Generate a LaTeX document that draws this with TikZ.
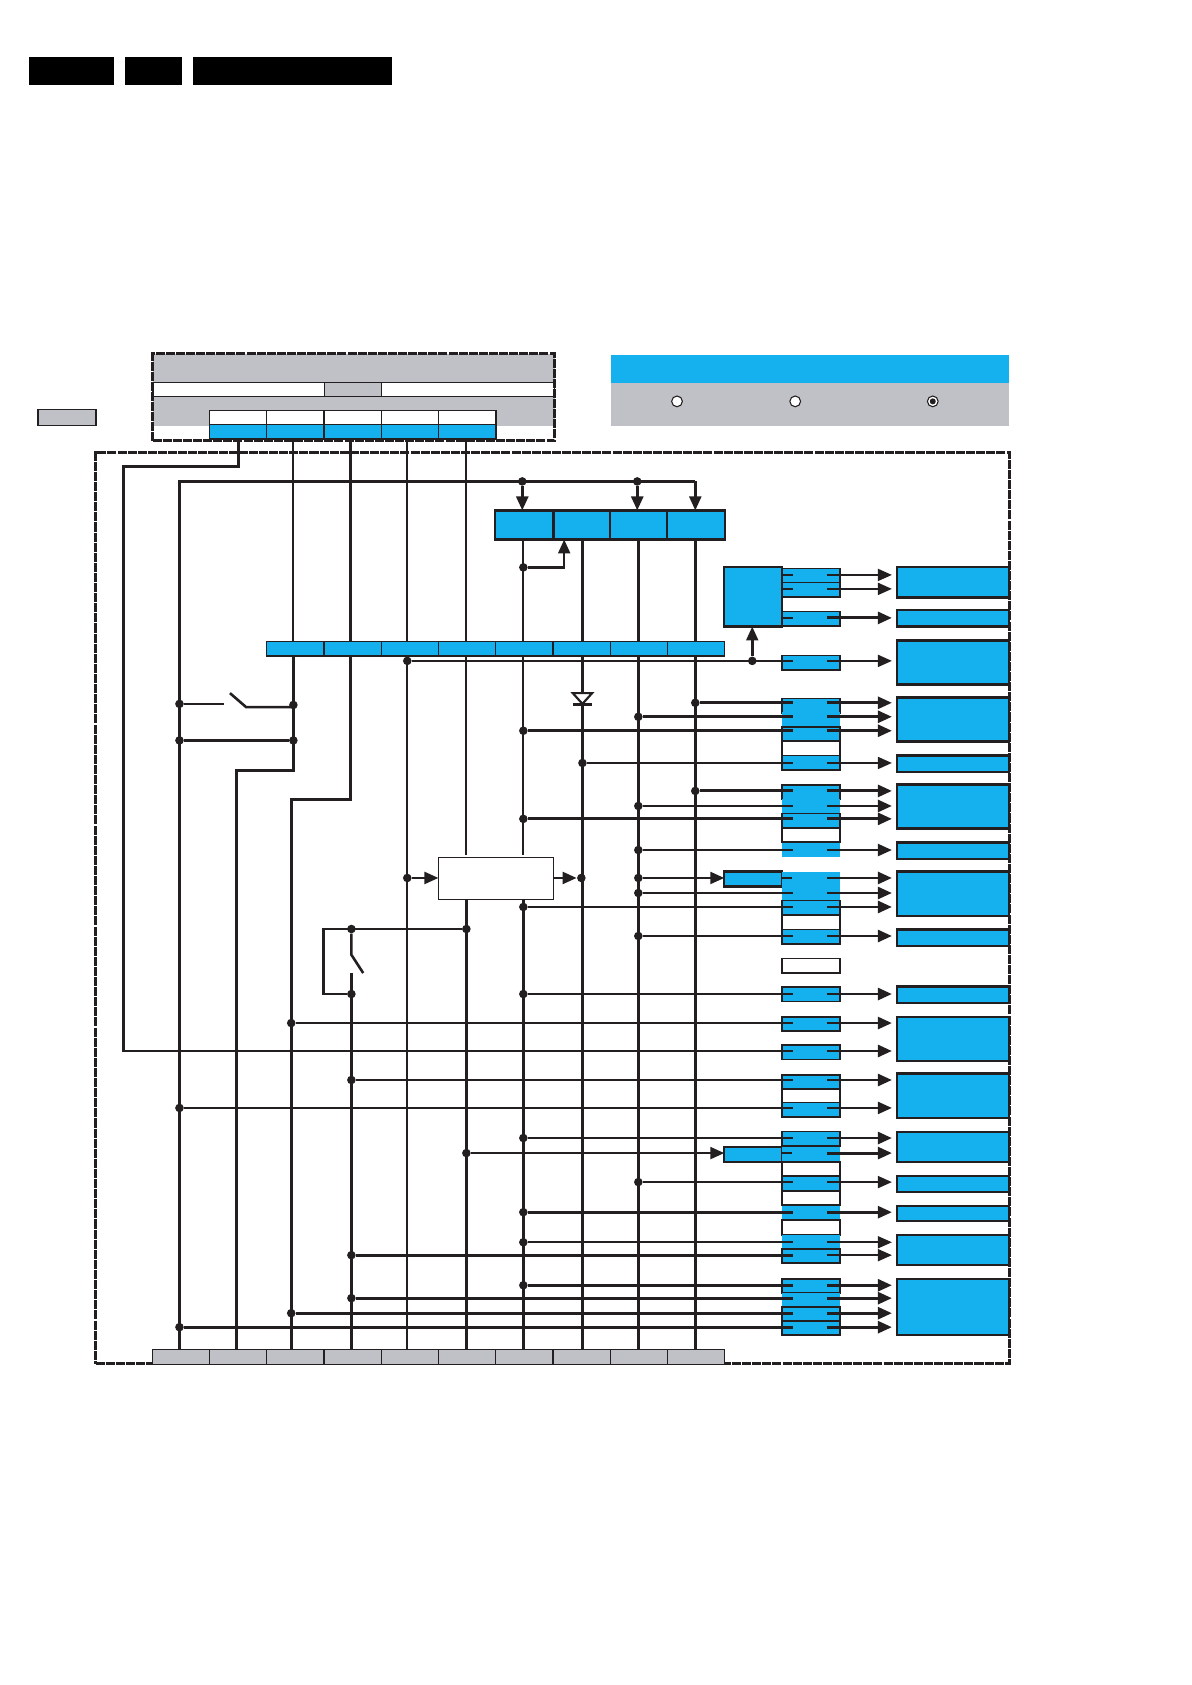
\documentclass[tikz,border=0pt]{standalone}
\usepackage{amsmath, amssymb, graphicx, xcolor}
\usetikzlibrary{arrows.meta}
\definecolor{chipblue}{HTML}{14B1EE}
\definecolor{panelgray}{HTML}{BFC1C6}
\definecolor{ink}{HTML}{231F20}
\tikzset{
  box/.style={anchor=north west, inner sep=0pt, outer sep=0pt, line width=.85pt, draw=ink},
  bare/.style={anchor=north west, inner sep=0pt, outer sep=0pt},
  cellb/.style={box, fill=chipblue, minimum width=26.7pt},
  cellw/.style={box, fill=white, minimum width=26.7pt},
  cellg/.style={box, fill=panelgray, minimum width=26.7pt, minimum height=6.7pt, line width=.5pt},
  pinb/.style={cellb, minimum height=6.7pt},
  pinw/.style={cellw, minimum height=6.7pt},
  pinp/.style={bare, fill=chipblue, minimum width=26.7pt, minimum height=6.7pt},
  loadbox/.style={box, fill=chipblue, minimum width=52pt, line width=1pt},
  frameline/.style={line width=1.4pt, draw=ink, dash pattern=on 4.2pt off .5pt},
  wire/.style={draw=ink, line width=1.2pt},
  lean/.style={line width=1pt},
  heavy/.style={line width=1.35pt},
  sig/.style={wire, -{Triangle[length=6.5pt,width=5.5pt]}},
  pinin/.style={shorten >=-5pt},
  pinout/.style={sig, shorten <=-6pt, shorten >=2.5pt},
  jdot/.style={circle, fill=ink, inner sep=0pt, minimum size=4pt},
  hole/.style={circle, draw=ink, fill=white, line width=.5pt, inner sep=0pt, minimum size=5pt}
}
\begin{document}
\begin{tikzpicture}[x=0.5pt,y=-0.5pt]
\useasboundingbox (0,0) rectangle (1109,1568);
% black bars
\node[bare, fill=black, minimum width=39.5pt, minimum height=13pt] (bar1) at (27,53) {};
\node[bare, fill=black, minimum width=26.5pt, minimum height=13pt] (bar2) at (116,53) {};
\node[bare, fill=black, minimum width=92.5pt, minimum height=13pt] (bar3) at (180,53) {};
% small grey tag
\node[box, fill=panelgray, minimum width=27pt, minimum height=7.5pt] (tag) at (35,381) {};
% top grey panel
\node[bare, fill=panelgray, minimum width=187pt, minimum height=13.5pt] (pan1) at (142,329) {};
\node[box, fill=white, minimum width=187pt, minimum height=6.5pt] (pan2) at (142,356) {};
\node[box, fill=panelgray, line width=.5pt, minimum width=26.5pt, minimum height=6.5pt] (pan3) at (302,356) {};
\node[bare, fill=panelgray, minimum width=187pt, minimum height=13.5pt] (pan4) at (142,369) {};
\draw[wire, line width=.85pt] (pan4.north west) -- (pan4.north east);
% legend panel
\node[bare, fill=chipblue, minimum width=185pt, minimum height=13pt] (leg1) at (569,330) {};
\node[bare, fill=panelgray, minimum width=185pt, minimum height=20pt] (leg2) at (569,356) {};
\node[hole] (rad1) at (630,373.5) {};
\node[hole] (rad2) at (740,373.5) {};
\node[hole] (rad3) at (868,373.5) {};
\node[jdot, minimum size=2.8pt] (rad3d) at (rad3) {};
% dashed frames
\node[bare, frameline, minimum width=187pt, minimum height=40.5pt] (upper) at (142,329) {};
\node[bare, frameline, minimum width=425pt, minimum height=424pt] (main) at (89,421) {};
% connector cells on top
\node[cellw, minimum height=6.7pt] (c1) at (195,382) {};
\node[cellw, minimum height=6.7pt] (c2) at (248,382) {};
\node[cellw, minimum height=6.7pt] (c3) at (302,382) {};
\node[cellw, minimum height=6.7pt] (c4) at (355,382) {};
\node[cellw, minimum height=6.7pt] (c5) at (408,382) {};
\node[pinb] (t1) at (195,395) {};
\node[pinb] (t2) at (248,395) {};
\node[pinb] (t3) at (302,395) {};
\node[pinb] (t4) at (355,395) {};
\node[pinb] (t5) at (408,395) {};
% upper row
\node[cellb, line width=1pt, minimum height=13.5pt] (u1) at (461,475) {};
\node[cellb, line width=1pt, minimum height=13.5pt] (u2) at (515,475) {};
\node[cellb, line width=1pt, minimum height=13.5pt] (u3) at (568,475) {};
\node[cellb, line width=1pt, minimum height=13.5pt] (u4) at (621,475) {};
% middle row
\node[pinb, line width=.6pt] (m1) at (248,597) {};
\node[pinb, line width=.6pt] (m2) at (302,597) {};
\node[pinb, line width=.6pt] (m3) at (355,597) {};
\node[pinb, line width=.6pt] (m4) at (408,597) {};
\node[pinb, line width=.6pt] (m5) at (461,597) {};
\node[pinb, line width=.6pt] (m6) at (515,597) {};
\node[pinb, line width=.6pt] (m7) at (568,597) {};
\node[pinb, line width=.6pt] (m8) at (621,597) {};
% bottom row
\node[cellg] (b1) at (142,1256) {};
\node[cellg] (b2) at (195,1256) {};
\node[cellg] (b3) at (248,1256) {};
\node[cellg] (b4) at (302,1256) {};
\node[cellg] (b5) at (355,1256) {};
\node[cellg] (b6) at (408,1256) {};
\node[cellg] (b7) at (461,1256) {};
\node[cellg] (b8) at (515,1256) {};
\node[cellg] (b9) at (568,1256) {};
\node[cellg] (b10) at (621,1256) {};
% blocks
\node[cellb, line width=1pt, minimum height=27.5pt] (chip) at (674,528) {};
\node[cellb, line width=1pt, minimum height=7pt] (drvA) at (674,811) {};
\node[cellb, line width=1pt, minimum height=7pt] (drvB) at (674,1067) {};
\node[box, fill=white, line width=.7pt, minimum width=53.5pt, minimum height=19.5pt] (reg) at (408,798) {};
% pin stacks
\node[pinb] (pa1) at (728,529) {};
\node[pinb] (pa2) at (728,542) {};
\node[pinb] (pa3) at (728,569) {};
\node[pinb] (pa4) at (728,610) {};
\node[pinb] (s1) at (728,650) {};
\node[pinp] (s2) at (728,663) {};
\node[pinb] (s3) at (728,676.5) {};
\node[pinw] (s4) at (728,690) {};
\node[pinb] (s5) at (728,703) {};
\node[pinb] (s6) at (728,730.5) {};
\node[pinp] (s7) at (728,743.5) {};
\node[pinb] (s8) at (728,757) {};
\node[pinw] (s9) at (728,770.5) {};
\node[pinp] (s10) at (728,784) {};
\node[pinp] (s11) at (728,811) {};
\node[pinp] (s12) at (728,824.5) {};
\node[pinb] (s13) at (728,838) {};
\node[pinw] (s14) at (728,852) {};
\node[pinb] (s15) at (728,865) {};
\node[pinw] (s16) at (728,892) {};
\node[pinb] (s17) at (728,918.5) {};
\node[pinb] (s18) at (728,946) {};
\node[pinb] (s19) at (728,972.5) {};
\node[pinb] (s20) at (728,1000) {};
\node[pinw] (s21) at (728,1013) {};
\node[pinb] (s22) at (728,1026) {};
\node[pinb] (s23) at (728,1053) {};
\node[pinp] (s24) at (728,1067) {};
\node[pinw] (s25) at (728,1081) {};
\node[pinb] (s26) at (728,1094.5) {};
\node[pinw] (s27) at (728,1108) {};
\node[pinp] (s28) at (728,1122) {};
\node[pinw] (s29) at (728,1135.5) {};
\node[pinp] (s30) at (728,1149) {};
\node[pinb] (s31) at (728,1162) {};
\node[pinb] (s32) at (728,1190) {};
\node[pinp] (s33) at (728,1203) {};
\node[pinb] (s34) at (728,1216) {};
\node[pinb] (s35) at (728,1229) {};
% loads on the right
\node[loadbox, minimum height=14pt] (o1) at (835,528) {};
\node[loadbox, minimum height=7.5pt] (o2) at (835,568) {};
\node[loadbox, minimum height=20.5pt] (o3) at (835,596) {};
\node[loadbox, minimum height=20.5pt] (o4) at (835,649) {};
\node[loadbox, minimum height=7.5pt] (o5) at (835,703) {};
\node[loadbox, minimum height=20.5pt] (o6) at (835,730) {};
\node[loadbox, minimum height=7.5pt] (o7) at (835,784) {};
\node[loadbox, minimum height=20.5pt] (o8) at (835,811) {};
\node[loadbox, minimum height=7.5pt] (o9) at (835,865) {};
\node[loadbox, minimum height=7.5pt] (o10) at (835,918) {};
\node[loadbox, minimum height=20.5pt] (o11) at (835,946) {};
\node[loadbox, minimum height=20.5pt] (o12) at (835,999) {};
\node[loadbox, minimum height=14pt] (o13) at (835,1053) {};
\node[loadbox, minimum height=7.5pt] (o14) at (835,1094) {};
\node[loadbox, minimum height=7pt] (o15) at (835,1122) {};
\node[loadbox, minimum height=14pt] (o16) at (835,1149) {};
\node[loadbox, minimum height=26pt] (o17) at (835,1190) {};
% vertical rails
\coordinate (vA) at (167,1256);
\coordinate (vB) at (220,1256);
\coordinate (vC) at (271,1256);
\coordinate (vD) at (327,1256);
\coordinate (vE) at (379,1256);
\coordinate (vF) at (434,1256);
\coordinate (vG) at (487,1256);
\coordinate (vH) at (542,1256);
\coordinate (vI) at (594,1256);
\coordinate (vJ) at (647,1256);
\coordinate (vT2) at (273,409);
\coordinate (vT3) at (326,409);
\coordinate (cnA) at (115,434);
\coordinate (cnB) at (115,978);
\coordinate (cnC) at (273,717);
\coordinate (cnD) at (220,717);
\coordinate (cnE) at (326,744);
\coordinate (cnF) at (271,744);
\coordinate (railend) at (647,448);
\draw[wire] (vA) |- (railend);
\node[jdot] (jr1) at (486,448) {};
\node[jdot] (jr2) at (593,448) {};
\draw[sig, heavy] (jr1) -- (jr1 |- u1.north);
\draw[sig, heavy] (jr2) -- (jr2 |- u3.north);
\draw[sig] (railend) -- (railend |- u4.north);
\draw[wire] (t1.south) |- (cnA) -- (cnB) -- (cnB -| s19.west);
\draw[wire, lean] (vT2) -- (vT2 |- m1.north);
\draw[wire] (vT2 |- m1.south) -- (cnC) -- (cnD) -- (vB);
\draw[wire, heavy] (vT3) -- (vT3 |- m2.north);
\draw[wire] (vT3 |- m2.south) -- (cnE) -- (cnF) -- (vC);
\draw[wire, lean] (vE |- t4.south) -- (vE |- m3.north);
\draw[wire, lean] (vE |- m3.south) -- (vE);
\draw[wire, lean] (vF |- t5.south) -- (vF |- m4.north);
\draw[wire, lean, shorten >=1pt] (vF |- m4.south) -- (vF |- reg.north);
\draw[wire] (vF |- reg.south) -- (vF);
\draw[wire, lean] (vG |- u1.south) -- (vG |- m5.north);
\draw[wire, lean, shorten >=1pt] (vG |- m5.south) -- (vG |- reg.north);
\draw[wire, heavy] (vG |- reg.south) -- (vG);
\draw[wire, lean] (vH |- u2.south) -- (vH |- m6.north);
\draw[wire] (vH |- m6.south) -- (vH);
\draw[wire] (vI |- u3.south) -- (vI |- m7.north);
\draw[wire, heavy] (vI |- m7.south) -- (vI);
\draw[wire] (vJ |- u4.south) -- (vJ |- m8.north);
\draw[wire] (vJ |- m8.south) -- (vJ);
% feedback into the upper row
\node[jdot] (jup) at (487,528) {};
\coordinate (upA) at (525,502);
\draw[sig] (jup) -| (upA);
% chip outputs
\coordinate (a1) at (728,535);
\coordinate (a2) at (728,548);
\coordinate (a3) at (728,575);
\draw[wire] (a1) -- ++(10,0);
\draw[wire] (a2) -- ++(10,0);
\draw[wire] (a3) -- ++(10,0);
\draw[pinout, lean] (a1 -| pa1.east) -- (a1 -| o1.west);
\draw[pinout, lean] (a2 -| pa2.east) -- (a2 -| o1.west);
\draw[pinout, heavy] (a3 -| pa3.east) -- (a3 -| o2.west);
% rail to the chip
\node[jdot] (j00) at (379,615) {};
\node[jdot] (jchip) at (700,615) {};
\draw[sig] (jchip) -- (jchip |- chip.south);
\draw[wire, lean, pinin] (j00) -- (j00 -| pa4.west);
\draw[pinout, lean] (j00 -| pa4.east) -- (j00 -| o3.west);
% diode
\coordinate (dio) at (542,650);
\draw[wire, lean, fill=white] (dio) ++(-9,-5) -- ++(18,0) -- ++(-9,10) -- cycle;
\draw[wire] (dio) ++(-9,5.5) -- ++(18,0);
% switches
\node[jdot] (jS1) at (167,655) {};
\node[jdot] (jS2) at (273,656) {};
\node[jdot] (jS3) at (167,689) {};
\node[jdot] (jS4) at (273,689) {};
\coordinate (sw1a) at (208,655);
\coordinate (sw1b) at (214,645);
\coordinate (sw1c) at (229,658);
\draw[wire] (jS1) -- (sw1a);
\draw[wire] (sw1b) -- (sw1c) -- (sw1c -| jS2);
\draw[wire, heavy] (jS3) -- (jS4);
\node[jdot] (jS5) at (327,864.5) {};
\node[jdot] (jS6) at (434,864.5) {};
\node[jdot] (jS7) at (327,925) {};
\coordinate (cs1) at (301,864.5);
\coordinate (cs2) at (301,925);
\coordinate (sw2a) at (327,888.5);
\coordinate (sw2b) at (338,905.5);
\coordinate (sw2c) at (327,905);
\draw[wire] (jS6) -- (cs1) -- (cs2) -- (jS7);
\draw[wire] (jS5) -- (sw2a) -- (sw2b);
\draw[wire] (sw2c) -- (vD);
% regulator in and out
\node[jdot] (jE) at (379,817) {};
\node[jdot] (jH) at (541,817) {};
\draw[sig] (jE) -- (jE -| reg.west);
\draw[sig] (jE -| reg.east) -- (jH);
% signal rows
\node[jdot] (j01) at (647,654) {};
\draw[wire, heavy, pinin] (j01) -- (j01 -| s1.west);
\draw[pinout, heavy] (j01 -| s1.east) -- (j01 -| o4.west);
\node[jdot] (j02) at (594,667) {};
\draw[wire, heavy, pinin] (j02) -- (j02 -| s2.west);
\draw[pinout, heavy] (j02 -| s2.east) -- (j02 -| o4.west);
\node[jdot] (j03) at (487,680) {};
\draw[wire, heavy, pinin] (j03) -- (j03 -| s3.west);
\draw[pinout, heavy] (j03 -| s3.east) -- (j03 -| o4.west);
\node[jdot] (j04) at (542,710) {};
\draw[wire, lean, pinin] (j04) -- (j04 -| s5.west);
\draw[pinout, lean] (j04 -| s5.east) -- (j04 -| o5.west);
\node[jdot] (j05) at (647,736) {};
\draw[wire, heavy, pinin] (j05) -- (j05 -| s6.west);
\draw[pinout, heavy] (j05 -| s6.east) -- (j05 -| o6.west);
\node[jdot] (j06) at (594,750) {};
\draw[wire, heavy, pinin] (j06) -- (j06 -| s7.west);
\draw[pinout, heavy] (j06 -| s7.east) -- (j06 -| o6.west);
\node[jdot] (j07) at (487,762) {};
\draw[wire, heavy, pinin] (j07) -- (j07 -| s8.west);
\draw[pinout, heavy] (j07 -| s8.east) -- (j07 -| o6.west);
\node[jdot] (j08) at (594,791) {};
\draw[wire, pinin] (j08) -- (j08 -| s10.west);
\draw[pinout] (j08 -| s10.east) -- (j08 -| o7.west);
\node[jdot] (j09) at (594,817) {};
\draw[sig] (j09) -- (j09 -| drvA.west);
\draw[wire] (j09 -| drvA.east) -- ++(10,0);
\draw[pinout, heavy] (j09 -| s11.east) -- (j09 -| o8.west);
\node[jdot] (j10) at (594,831) {};
\draw[wire, heavy, pinin] (j10) -- (j10 -| s12.west);
\draw[pinout, heavy] (j10 -| s12.east) -- (j10 -| o8.west);
\node[jdot] (j11) at (487,844) {};
\draw[wire, heavy, pinin] (j11) -- (j11 -| s13.west);
\draw[pinout, heavy] (j11 -| s13.east) -- (j11 -| o8.west);
\node[jdot] (j12) at (594,871) {};
\draw[wire, heavy, pinin] (j12) -- (j12 -| s15.west);
\draw[pinout, heavy] (j12 -| s15.east) -- (j12 -| o9.west);
\node[jdot] (j13) at (487,925) {};
\draw[wire, heavy, pinin] (j13) -- (j13 -| s17.west);
\draw[pinout, heavy] (j13 -| s17.east) -- (j13 -| o10.west);
\node[jdot] (j14) at (271,952) {};
\draw[wire, heavy, pinin] (j14) -- (j14 -| s18.west);
\draw[pinout, heavy] (j14 -| s18.east) -- (j14 -| o11.west);
\draw[pinout, heavy] (cnB -| s19.east) -- (cnB -| o11.west);
\draw[wire] (cnB -| s19.west) -- ++(10,0);
\node[jdot] (j15) at (327,1005) {};
\draw[wire, heavy, pinin] (j15) -- (j15 -| s20.west);
\draw[pinout, heavy] (j15 -| s20.east) -- (j15 -| o12.west);
\node[jdot] (j16) at (167,1031) {};
\draw[wire, lean, pinin] (j16) -- (j16 -| s22.west);
\draw[pinout] (j16 -| s22.east) -- (j16 -| o12.west);
\node[jdot] (j17) at (487,1059) {};
\draw[wire, heavy, pinin] (j17) -- (j17 -| s23.west);
\draw[pinout, heavy] (j17 -| s23.east) -- (j17 -| o13.west);
\node[jdot] (j18) at (434,1073) {};
\draw[sig] (j18) -- (j18 -| drvB.west);
\draw[wire] (j18 -| drvB.east) -- ++(10,0);
\draw[pinout, heavy] (j18 -| s24.east) -- (j18 -| o13.west);
\node[jdot] (j19) at (594,1100) {};
\draw[wire, lean, pinin] (j19) -- (j19 -| s26.west);
\draw[pinout, lean] (j19 -| s26.east) -- (j19 -| o14.west);
\node[jdot] (j20) at (487,1128) {};
\draw[wire, heavy, pinin] (j20) -- (j20 -| s28.west);
\draw[pinout, heavy] (j20 -| s28.east) -- (j20 -| o15.west);
\node[jdot] (j21) at (487,1156) {};
\draw[wire, lean, pinin] (j21) -- (j21 -| s30.west);
\draw[pinout, lean] (j21 -| s30.east) -- (j21 -| o16.west);
\node[jdot] (j22) at (327,1168) {};
\draw[wire, heavy, pinin] (j22) -- (j22 -| s31.west);
\draw[pinout, lean] (j22 -| s31.east) -- (j22 -| o16.west);
\node[jdot] (j23) at (487,1196) {};
\draw[wire, heavy, pinin] (j23) -- (j23 -| s32.west);
\draw[pinout, heavy] (j23 -| s32.east) -- (j23 -| o17.west);
\node[jdot] (j24) at (327,1208) {};
\draw[wire, heavy, pinin] (j24) -- (j24 -| s33.west);
\draw[pinout, heavy] (j24 -| s33.east) -- (j24 -| o17.west);
\node[jdot] (j25) at (271,1222) {};
\draw[wire, heavy, pinin] (j25) -- (j25 -| s34.west);
\draw[pinout, heavy] (j25 -| s34.east) -- (j25 -| o17.west);
\node[jdot] (j26) at (167,1235) {};
\draw[wire, heavy, pinin] (j26) -- (j26 -| s35.west);
\draw[pinout, heavy] (j26 -| s35.east) -- (j26 -| o17.west);
\end{tikzpicture}
\end{document}
